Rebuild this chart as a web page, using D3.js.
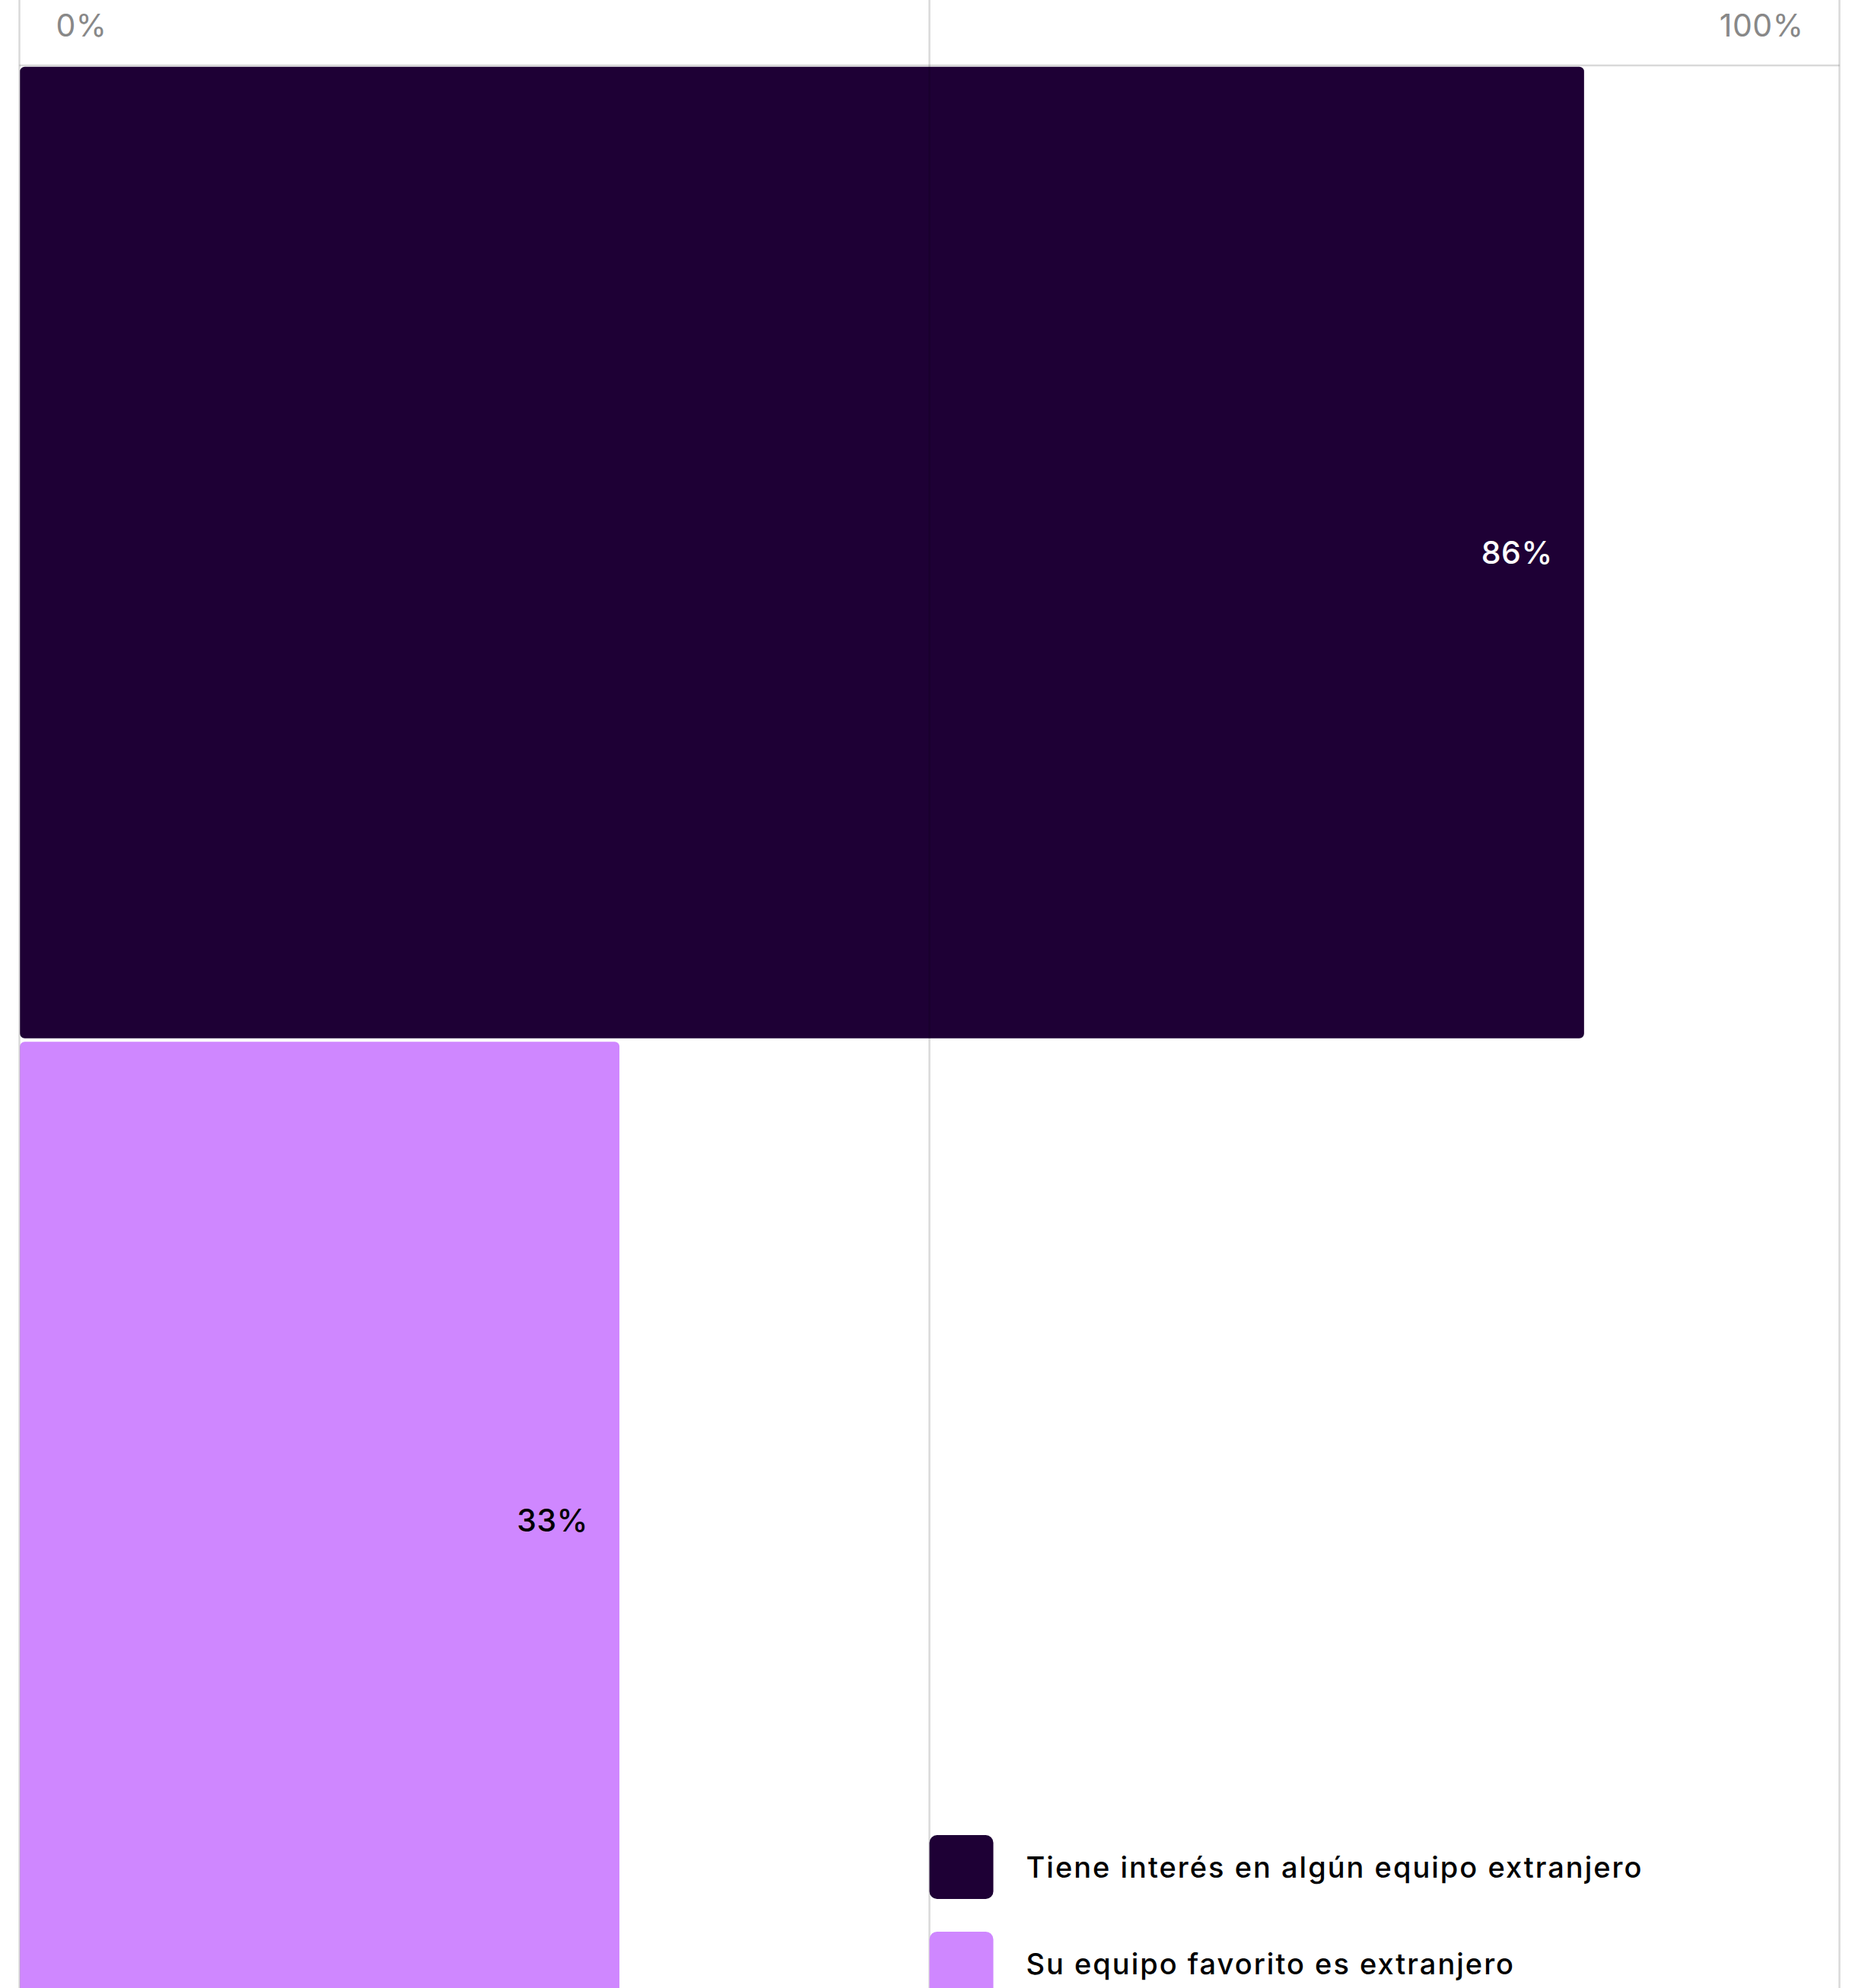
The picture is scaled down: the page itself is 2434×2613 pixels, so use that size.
<!DOCTYPE html>
<html>
<head>
<meta charset="utf-8">
<script src="https://cdn.jsdelivr.net/npm/d3@7"></script>
<style>
  html, body { margin: 0; padding: 0; background: #fff; overflow: hidden; }
  text { font-family: Inter, "Noto Sans", sans-serif; }
</style>
</head>
<body>
<div id="chart"></div>
<script>
// data
var categories = ["Tiene interés en algún equipo extranjero", "Su equipo favorito es extranjero"];
var values = [86, 33];
var colors = ["#1e0035", "#cf87ff"];
var labelColors = ["#ffffff", "#000000"];
var tickValues = [0, 50, 100];
var tickLabels = ["0%", "100%"];

var W = 2434, H = 2613;

var svg = d3.select("#chart").append("svg")
    .attr("width", W).attr("height", H);

var x = d3.scaleLinear().domain([0, 100]).range([25.5, 2417.5]);
var y = d3.scaleBand().domain(categories).range([87, 2647]).paddingInner(0.0024);

// bars
var bars = svg.selectAll(".bar")
    .data(categories)
    .enter()
    .append("g")
    .attr("class", "bar");

bars.append("rect")
    .attr("x", x(0))
    .attr("y", function(d) { return y(d); })
    .attr("width", function(d, i) { return x(values[i]) - x(0); })
    .attr("height", y.bandwidth())
    .attr("rx", 7)
    .style("fill", function(d, i) { return colors[i]; })
    .style("stroke", "#fff")
    .style("stroke-width", 1.5);

bars.append("text")
    .attr("x", function(d, i) { return x(values[i]) - 42; })
    .attr("y", function(d, i) { return y(d) + y.bandwidth() / 2 - i * 10; })
    .attr("dominant-baseline", "central")
    .style("text-anchor", "end")
    .style("font-size", "41px")
    .style("font-weight", 500)
    .style("letter-spacing", "0.5px")
    .style("fill", function(d, i) { return labelColors[i]; })
    .text(function(d, i) { return values[i] + "%"; });

// grid lines drawn on top, translucent
svg.selectAll(".grid")
    .data(tickValues)
    .enter()
    .append("line")
    .attr("class", "grid")
    .attr("x1", function(d) { return x(d); })
    .attr("x2", function(d) { return x(d); })
    .attr("y1", 0)
    .attr("y2", H)
    .style("stroke", "rgba(0,0,0,0.15)")
    .style("stroke-width", 2.5);

svg.append("line")
    .attr("x1", x(0)).attr("x2", x(100))
    .attr("y1", 86).attr("y2", 86)
    .style("stroke", "rgba(0,0,0,0.15)")
    .style("stroke-width", 2.5);

// axis labels
svg.append("text")
    .attr("x", x(0) + 48)
    .attr("y", 33)
    .attr("dominant-baseline", "central")
    .style("font-size", "41px")
    .style("letter-spacing", "0.5px")
    .style("fill", "#888")
    .text(tickLabels[0]);

svg.append("text")
    .attr("x", x(100) - 47)
    .attr("y", 33)
    .attr("dominant-baseline", "central")
    .style("text-anchor", "end")
    .style("font-size", "41px")
    .style("letter-spacing", "0.5px")
    .style("fill", "#888")
    .text(tickLabels[1]);

// legend
var legend = svg.selectAll(".legend")
    .data(categories)
    .enter()
    .append("g")
    .attr("class", "legend")
    .attr("transform", function(d, i) { return "translate(" + x(50) + "," + (2412 + i * 127) + ")"; });

legend.append("rect")
    .attr("width", 84)
    .attr("height", 84)
    .attr("rx", 10)
    .style("fill", function(d, i) { return colors[i]; });

legend.append("text")
    .attr("x", 127)
    .attr("y", 42)
    .attr("dominant-baseline", "central")
    .style("font-size", "38px")
    .style("font-weight", 500)
    .style("letter-spacing", "2px")
    .style("fill", "#000")
    .text(function(d) { return d; });
</script>
</body>
</html>
